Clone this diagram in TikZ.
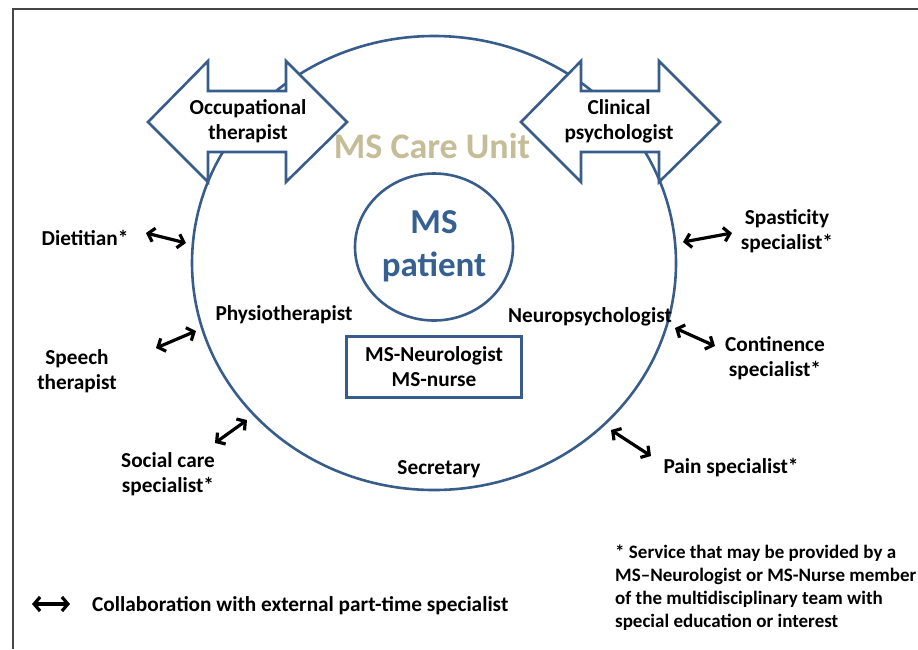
\documentclass[tikz,border=0pt]{standalone}
\usepackage{fontspec}
\setmainfont{Carlito}
\usepackage{xcolor}
\usetikzlibrary{arrows.meta,shapes.geometric}

\definecolor{unitblue}{RGB}{56,93,138}
\definecolor{patientblue}{RGB}{54,96,146}
\definecolor{unittan}{RGB}{196,189,151}
\definecolor{framegray}{RGB}{70,70,70}

\begin{document}
\begin{tikzpicture}[x=1pt,y=-1pt,
        ringnode/.style={ellipse, draw=unitblue, line width=2.6pt, inner sep=0pt},
        blockarrow/.style={draw=unitblue, line width=2.6pt, fill=white, line join=miter},
        member/.style={font=\fontsize{21.3}{25}\selectfont\bfseries, align=center, inner sep=0pt},
        collab/.style={{Straight Barb[length=6pt,width=14pt]}-{Straight Barb[length=6pt,width=14pt]}, line width=3.2pt, black},
        note/.style={font=\fontsize{19}{23}\selectfont\bfseries, align=left, inner sep=0pt}
        ]
            \useasboundingbox (0,0) rectangle (918,649);
            \draw[framegray, line width=1.5pt] (13,649) -- (13,9) -- (918,9);

            \node[ringnode, minimum width=484pt, minimum height=454pt] (unit) at (434,263) {};
            \node[ringnode, minimum width=158pt, minimum height=147pt] (patient) at (434,247) {};

            % double block arrows
            \draw[blockarrow] (148,122) -- (208,61) -- (208,91) -- (286,91) -- (286,61) -- (347,122)
                -- (286,182) -- (286,152) -- (208,152) -- (208,182) -- cycle;
            \draw[blockarrow] (521,122) -- (581,61) -- (581,91) -- (659,91) -- (659,61) -- (720,122)
                -- (659,182) -- (659,152) -- (581,152) -- (581,182) -- cycle;

            \node[member] (occ) at (248,121) {Occupational\\therapist};
            \node[member] (clin) at (619,121) {Clinical\\psychologist};
            \node[font=\fontsize{36}{40}\selectfont\bfseries, text=unittan, inner sep=0pt] (care) at (432,146) {MS Care Unit};
            \node[font=\fontsize{35}{43}\selectfont\bfseries, text=patientblue, align=center, inner sep=0pt] (pat) at (434,246) {MS\\patient};

            \node[member] (physio) at (284,315) {Physiotherapist};
            \node[member] (neuro) at (590,317) {Neuropsychologist};
            \node[member] (secr) at (439,469) {Secretary};
            \node[draw=unitblue, line width=2.6pt, minimum width=175pt, minimum height=61pt, member] (team) at (434,367) {MS-Neurologist\\MS-nurse};

            \node[member] (diet) at (85,238) {Dietitian*};
            \node[member] (speech) at (77,371) {Speech\\therapist};
            \node[member] (social) at (168,474) {Social care\\specialist*};
            \node[member] (spast) at (787,231) {Spasticity\\specialist*};
            \node[member] (cont) at (775,358) {Continence\\specialist*};
            \node[member] (pain) at (731,468) {Pain specialist*};

            \coordinate (dietA) at (146,233);
            \coordinate (dietB) at (186,243);
            \coordinate (speechA) at (156,348);
            \coordinate (speechB) at (196,331);
            \coordinate (socialA) at (215,443);
            \coordinate (socialB) at (247,420);
            \coordinate (spastA) at (732,233);
            \coordinate (spastB) at (683,242);
            \coordinate (contA) at (715,346);
            \coordinate (contB) at (675,328);
            \coordinate (painA) at (651,456);
            \coordinate (painB) at (611,430);

            \draw[collab] (dietA) -- (dietB);
            \draw[collab] (speechA) -- (speechB);
            \draw[collab] (socialA) -- (socialB);
            \draw[collab] (spastA) -- (spastB);
            \draw[collab] (contA) -- (contB);
            \draw[collab] (painA) -- (painB);

            % legend
            \coordinate (keyA) at (32,604);
            \coordinate (keyB) at (70,604);
            \draw[collab] (keyA) -- (keyB);
            \node[note, anchor=west, font=\fontsize{21.3}{25}\selectfont\bfseries] (key) at (92,606) {Collaboration with external part-time specialist};
            \node[note, anchor=north west] (star) at (615,545) {* Service that may be provided by a\\MS--Neurologist or MS-Nurse member\\of the multidisciplinary team with\\special education or interest};

        \end{tikzpicture}
\end{document}
